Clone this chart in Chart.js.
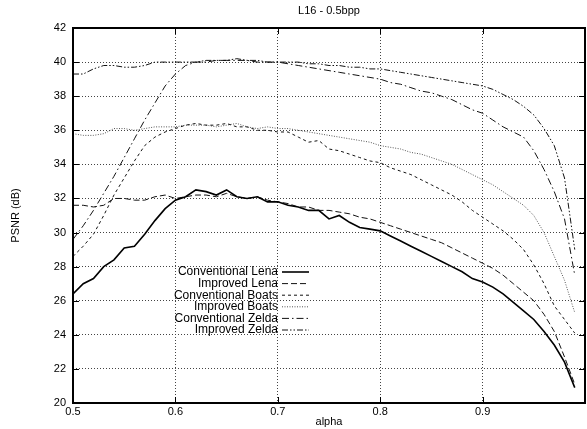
<!DOCTYPE html>
<html>
<head>
<meta charset="utf-8">
<script src="https://cdn.jsdelivr.net/npm/chart.js@4"></script>
<style>
  html, body { margin: 0; padding: 0; background: #fff; }
  #wrap { width: 587px; height: 429px; }
</style>
</head>
<body>
<div id="wrap"><canvas id="chart"></canvas></div>
<script>
const alphas = [0.50, 0.51, 0.52, 0.53, 0.54, 0.55, 0.56, 0.57, 0.58, 0.59,
  0.60, 0.61, 0.62, 0.63, 0.64, 0.65, 0.66, 0.67, 0.68, 0.69,
  0.70, 0.71, 0.72, 0.73, 0.74, 0.75, 0.76, 0.77, 0.78, 0.79,
  0.80, 0.81, 0.82, 0.83, 0.84, 0.85, 0.86, 0.87, 0.88, 0.89,
  0.90, 0.91, 0.92, 0.93, 0.94, 0.95, 0.96, 0.97, 0.98, 0.99];

const convLena = [26.4, 27.0, 27.3, 28.0, 28.4, 29.1, 29.2, 29.9, 30.7, 31.4,
  31.9, 32.1, 32.5, 32.4, 32.2, 32.5, 32.1, 32.0, 32.1, 31.8,
  31.8, 31.6, 31.5, 31.3, 31.3, 30.8, 31.0, 30.6, 30.3, 30.2,
  30.1, 29.8, 29.5, 29.2, 28.9, 28.6, 28.3, 28.0, 27.7, 27.3,
  27.1, 26.8, 26.4, 25.9, 25.4, 24.9, 24.2, 23.4, 22.4, 20.9];

const imprLena = [31.6, 31.6, 31.5, 31.6, 32.0, 32.0, 31.9, 31.9, 32.1, 32.2,
  32.0, 32.1, 32.2, 32.2, 32.1, 32.3, 32.1, 32.0, 32.1, 31.9,
  31.8, 31.7, 31.5, 31.5, 31.3, 31.3, 31.2, 31.1, 30.9, 30.8,
  30.6, 30.4, 30.2, 30.0, 29.8, 29.6, 29.4, 29.1, 28.8, 28.5,
  28.2, 27.9, 27.5, 27.0, 26.5, 26.0, 25.2, 24.2, 22.7, 21.1];

const convBoats = [28.6, 29.2, 29.9, 31.0, 32.2, 33.2, 34.2, 35.1, 35.6, 35.9,
  36.1, 36.3, 36.4, 36.3, 36.3, 36.4, 36.2, 36.2, 36.0, 36.0,
  35.9, 35.9, 35.6, 35.3, 35.4, 34.9, 34.8, 34.6, 34.4, 34.2,
  34.1, 33.8, 33.6, 33.4, 33.1, 32.8, 32.5, 32.2, 31.8, 31.3,
  30.9, 30.5, 30.1, 29.6, 29.0, 28.1, 27.0, 25.7, 24.9, 24.1];

const imprBoats = [35.8, 35.7, 35.7, 35.8, 36.1, 36.1, 36.0, 36.1, 36.2, 36.2,
  36.2, 36.3, 36.3, 36.3, 36.2, 36.3, 36.4, 36.2, 36.1, 36.2,
  36.1, 36.1, 36.0, 35.9, 35.8, 35.7, 35.6, 35.5, 35.4, 35.3,
  35.1, 35.0, 34.9, 34.7, 34.6, 34.4, 34.2, 34.0, 33.7, 33.4,
  33.1, 32.8, 32.4, 32.0, 31.6, 31.0, 30.0, 28.6, 27.2, 25.3];

const convZelda = [29.6, 30.4, 31.3, 32.3, 33.3, 34.4, 35.5, 36.6, 37.6, 38.6,
  39.3, 39.8, 40.0, 40.0, 40.1, 40.1, 40.1, 40.1, 40.0, 40.0,
  40.0, 39.9, 39.8, 39.7, 39.6, 39.5, 39.4, 39.3, 39.2, 39.1,
  39.0, 38.8, 38.7, 38.5, 38.3, 38.2, 38.0, 37.8, 37.5, 37.2,
  37.0, 36.6, 36.2, 35.9, 35.6, 34.8, 33.7, 32.4, 30.8, 27.5];

const imprZelda = [39.3, 39.3, 39.6, 39.8, 39.8, 39.7, 39.7, 39.8, 40.0, 40.0,
  40.0, 40.0, 40.0, 40.1, 40.1, 40.1, 40.2, 40.1, 40.1, 40.0,
  40.0, 40.0, 40.0, 39.9, 39.9, 39.8, 39.8, 39.7, 39.7, 39.6,
  39.6, 39.5, 39.4, 39.3, 39.2, 39.1, 39.0, 38.9, 38.8, 38.7,
  38.6, 38.4, 38.1, 37.8, 37.4, 36.9, 36.1, 35.1, 33.2, 29.0];

const xTicks = [0.5, 0.6, 0.7, 0.8, 0.9];
const yTicks = [20, 22, 24, 26, 28, 30, 32, 34, 36, 38, 40, 42];
const chartTitle = "L16 - 0.5bpp";

const FONT = "'Liberation Sans', Arial, sans-serif";

function series(label, values, color, width, dash) {
  return {
    label,
    data: alphas.map((a, i) => ({ x: a, y: values[i] })),
    borderColor: color,
    borderWidth: width,
    borderDash: dash,
    pointRadius: 0,
    fill: false,
    tension: 0,
  };
}

// gnuplot-style key: labels right aligned, line sample to the right
const keyBox = {
  id: "keyBox",
  afterDatasetsDraw(chart) {
    const { ctx } = chart;
    const textRight = 278;
    const sx0 = 282, sx1 = 309;
    let y = 272;
    ctx.save();
    ctx.font = "12px " + FONT;
    ctx.textAlign = "right";
    ctx.textBaseline = "middle";
    chart.data.datasets.forEach((ds) => {
      ctx.fillStyle = "#000";
      ctx.fillText(ds.label, textRight, y);
      ctx.beginPath();
      ctx.strokeStyle = ds.borderColor;
      ctx.lineWidth = ds.borderWidth;
      ctx.setLineDash(ds.borderDash || []);
      ctx.moveTo(sx0, y);
      ctx.lineTo(sx1, y);
      ctx.stroke();
      y += 11.6;
    });
    ctx.restore();
  },
};

// solid frame, small inward tick marks, title centred on the plot area
const frame = {
  id: "frame",
  afterDraw(chart) {
    const { ctx, chartArea: a, scales } = chart;
    ctx.save();
    ctx.strokeStyle = "#000";
    ctx.lineWidth = 1;
    ctx.beginPath();
    xTicks.forEach((t) => {
      const px = Math.round(scales.x.getPixelForValue(t)) + 0.5;
      ctx.moveTo(px, a.bottom); ctx.lineTo(px, a.bottom - 6);
      ctx.moveTo(px, a.top); ctx.lineTo(px, a.top + 6);
    });
    yTicks.forEach((t) => {
      const py = Math.round(scales.y.getPixelForValue(t)) + 0.5;
      ctx.moveTo(a.left, py); ctx.lineTo(a.left + 6, py);
      ctx.moveTo(a.right, py); ctx.lineTo(a.right - 6, py);
    });
    ctx.stroke();
    ctx.lineWidth = 2;
    ctx.strokeRect(a.left, a.top, a.right - a.left, a.bottom - a.top);

    ctx.fillStyle = "#000";
    ctx.font = "11px " + FONT;
    ctx.textAlign = "center";
    ctx.textBaseline = "middle";
    ctx.fillText(chartTitle, (a.left + a.right) / 2, 11);
    ctx.restore();
  },
};

new Chart(document.getElementById("chart"), {
  type: "line",
  data: {
    datasets: [
      series("Conventional Lena", convLena, "#000", 1.6, []),
      series("Improved Lena", imprLena, "#111", 1, [6, 3]),
      series("Conventional Boats", convBoats, "#111", 1, [3, 3]),
      series("Improved Boats", imprBoats, "#555", 1, [1, 1.5]),
      series("Conventional Zelda", convZelda, "#111", 1, [7, 3, 1.5, 3]),
      series("Improved Zelda", imprZelda, "#111", 1, [6, 2, 1.5, 2, 1.5, 2]),
    ],
  },
  options: {
    responsive: true,
    maintainAspectRatio: false,
    animation: false,
    layout: { padding: { left: 0, right: 1, top: 28, bottom: 0 } },
    scales: {
      x: {
        type: "linear",
        min: 0.5,
        max: 1.0,
        afterFit: (s) => { s.height = 26; },
        afterBuildTicks: (s) => { s.ticks = [0.5, 0.6, 0.7, 0.8, 0.9, 1.0].map((v) => ({ value: v })); },
        ticks: {
          color: "#000",
          font: { family: FONT, size: 11 },
          padding: 2,
          callback: (v) => (xTicks.includes(Math.round(v * 10) / 10) ? v.toFixed(1) : ""),
        },
        grid: { color: "#444", lineWidth: 1, drawTicks: false },
        border: { display: false, dash: [1, 2] },
        title: {
          display: true,
          text: "alpha",
          color: "#000",
          font: { family: FONT, size: 11 },
          padding: 0,
        },
      },
      y: {
        min: 20,
        max: 42,
        afterFit: (s) => { s.width = 73; },
        afterBuildTicks: (s) => { s.ticks = yTicks.map((v) => ({ value: v })); },
        ticks: {
          color: "#000",
          font: { family: FONT, size: 11 },
          padding: 7,
        },
        grid: { color: "#444", lineWidth: 1, drawTicks: false },
        border: { display: false, dash: [1, 2] },
        title: {
          display: true,
          text: "PSNR (dB)",
          color: "#000",
          font: { family: FONT, size: 11 },
          padding: { top: 9, bottom: 0 },
        },
      },
    },
    plugins: {
      legend: { display: false },
      tooltip: { enabled: false },
      title: { display: false },
    },
  },
  plugins: [keyBox, frame],
});
</script>
</body>
</html>
